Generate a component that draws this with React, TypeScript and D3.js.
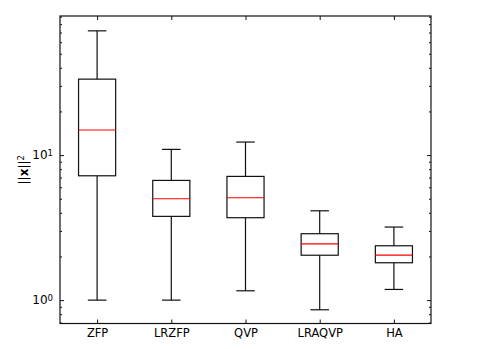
import React, { useRef, useEffect } from 'react';
import * as d3 from 'd3';

const METHODS = ['ZFP', 'LRZFP', 'QVP', 'LRAQVP', 'HA'];
const WHISKER_LOW = [1.0, 1.0, 1.16, 0.858, 1.185];
const Q1 = [7.2, 3.78, 3.7, 2.04, 1.81];
const MEDIAN = [14.9, 5.0, 5.08, 2.44, 2.04];
const Q3 = [33.4, 6.69, 7.13, 2.87, 2.37];
const WHISKER_HIGH = [71.9, 10.95, 12.3, 4.13, 3.19];
const Y_DOMAIN = [0.69, 91];
const MAJOR_TICKS = [1, 10];

export default function App() {
  const svgRef = useRef<SVGSVGElement | null>(null);

  useEffect(() => {
    const width = 479;
    const height = 349;
    const margin = { top: 16, right: 48, bottom: 25.5, left: 60 };
    const innerW = width - margin.left - margin.right;
    const innerH = height - margin.top - margin.bottom;

    const svg = d3.select(svgRef.current);
    svg.selectAll('*').remove();
    svg.attr('width', width).attr('height', height);

    const g = svg.append('g').attr('transform', `translate(${margin.left},${margin.top})`);

    const x = d3.scaleLinear().domain([0.5, METHODS.length + 0.5]).range([0, innerW]);
    const y = d3.scaleLog().domain(Y_DOMAIN).range([innerH, 0]);

    // minor ticks 2..9 per decade inside the domain
    const minor: number[] = [];
    for (let e = -1; e <= 2; e++) {
      for (let m = 2; m <= 9; m++) {
        const v = m * Math.pow(10, e);
        if (v >= Y_DOMAIN[0] && v <= Y_DOMAIN[1]) minor.push(v);
      }
    }

    const font = 'DejaVu Sans, sans-serif';
    const stroke = '#111';
    const lw = 1.2;

    const styleAxis = (sel: d3.Selection<SVGGElement, unknown, null, undefined>) => {
      sel.select('.domain').remove();
      sel.selectAll('line').attr('stroke', stroke).attr('stroke-width', 1);
    };

    // left axis major ticks with labels
    const left = g.append('g').call(
      d3
        .axisLeft(y)
        .tickValues(MAJOR_TICKS)
        .tickSize(-4)
        .tickPadding(10)
        .tickFormat(() => '')
    );
    styleAxis(left);
    left
      .selectAll<SVGGElement, number>('.tick')
      .append('text')
      .attr('x', -7)
      .attr('dy', '0.32em')
      .attr('text-anchor', 'end')
      .attr('fill', '#000')
      .attr('font-family', font)
      .attr('font-size', 12)
      .each(function (d) {
        const t = d3.select(this);
        t.append('tspan').text('10');
        t.append('tspan')
          .attr('dy', '-0.45em')
          .attr('font-size', 8.5)
          .text(String(Math.round(Math.log10(d))));
      });

    // left minor ticks
    styleAxis(g.append('g').call(d3.axisLeft(y).tickValues(minor).tickSize(-2).tickFormat(() => '')));
    // right major + minor
    styleAxis(
      g.append('g').attr('transform', `translate(${innerW},0)`)
        .call(d3.axisRight(y).tickValues(MAJOR_TICKS).tickSize(-4).tickFormat(() => ''))
    );
    styleAxis(
      g.append('g').attr('transform', `translate(${innerW},0)`)
        .call(d3.axisRight(y).tickValues(minor).tickSize(-2).tickFormat(() => ''))
    );

    // bottom axis
    const positions = METHODS.map((_, i) => i + 1);
    const bottom = g.append('g').attr('transform', `translate(0,${innerH})`).call(
      d3
        .axisBottom(x)
        .tickValues(positions)
        .tickSize(-4)
        .tickPadding(5)
        .tickFormat((d) => METHODS[(d as number) - 1])
    );
    styleAxis(bottom);
    bottom.selectAll('text').attr('fill', '#000').attr('font-family', font).attr('font-size', 11.5);
    styleAxis(g.append('g').call(d3.axisTop(x).tickValues(positions).tickSize(-4).tickFormat(() => '')));

    // boxes
    const boxW = x(1.25) - x(1);
    const capW = x(1.125) - x(1);
    const boxes = g.append('g').selectAll('g').data(METHODS).join('g');
    boxes.each(function (_, i) {
      const b = d3.select(this);
      const cx = x(i + 1);
      b.append('line')
        .attr('x1', cx).attr('x2', cx)
        .attr('y1', y(WHISKER_LOW[i])).attr('y2', y(Q1[i]))
        .attr('stroke', stroke).attr('stroke-width', lw);
      b.append('line')
        .attr('x1', cx).attr('x2', cx)
        .attr('y1', y(Q3[i])).attr('y2', y(WHISKER_HIGH[i]))
        .attr('stroke', stroke).attr('stroke-width', lw);
      [WHISKER_LOW[i], WHISKER_HIGH[i]].forEach((v) => {
        b.append('line')
          .attr('x1', cx - capW).attr('x2', cx + capW)
          .attr('y1', y(v)).attr('y2', y(v))
          .attr('stroke', stroke).attr('stroke-width', lw);
      });
      b.append('rect')
        .attr('x', cx - boxW)
        .attr('y', y(Q3[i]))
        .attr('width', boxW * 2)
        .attr('height', y(Q1[i]) - y(Q3[i]))
        .attr('fill', 'none')
        .attr('stroke', stroke).attr('stroke-width', lw);
      b.append('line')
        .attr('x1', cx - boxW).attr('x2', cx + boxW)
        .attr('y1', y(MEDIAN[i])).attr('y2', y(MEDIAN[i]))
        .attr('stroke', '#ff0000').attr('stroke-width', lw);
    });

    // frame
    g.append('rect')
      .attr('width', innerW)
      .attr('height', innerH)
      .attr('fill', 'none')
      .attr('stroke', stroke)
      .attr('stroke-width', lw);

    // y label
    const lab = svg
      .append('text')
      .attr('transform', `translate(28,${margin.top + innerH / 2}) rotate(-90)`)
      .attr('text-anchor', 'middle')
      .attr('font-family', font)
      .attr('font-size', 12)
      .attr('fill', '#000');
    lab.append('tspan').text('||');
    lab.append('tspan').attr('font-weight', 'bold').text('x');
    lab.append('tspan').text('||');
    lab.append('tspan').attr('dy', '-0.45em').attr('font-size', 8.5).text('2');
  }, []);

  return <svg ref={svgRef} style={{ position: 'absolute', left: 0, top: 0 }} />;
}
